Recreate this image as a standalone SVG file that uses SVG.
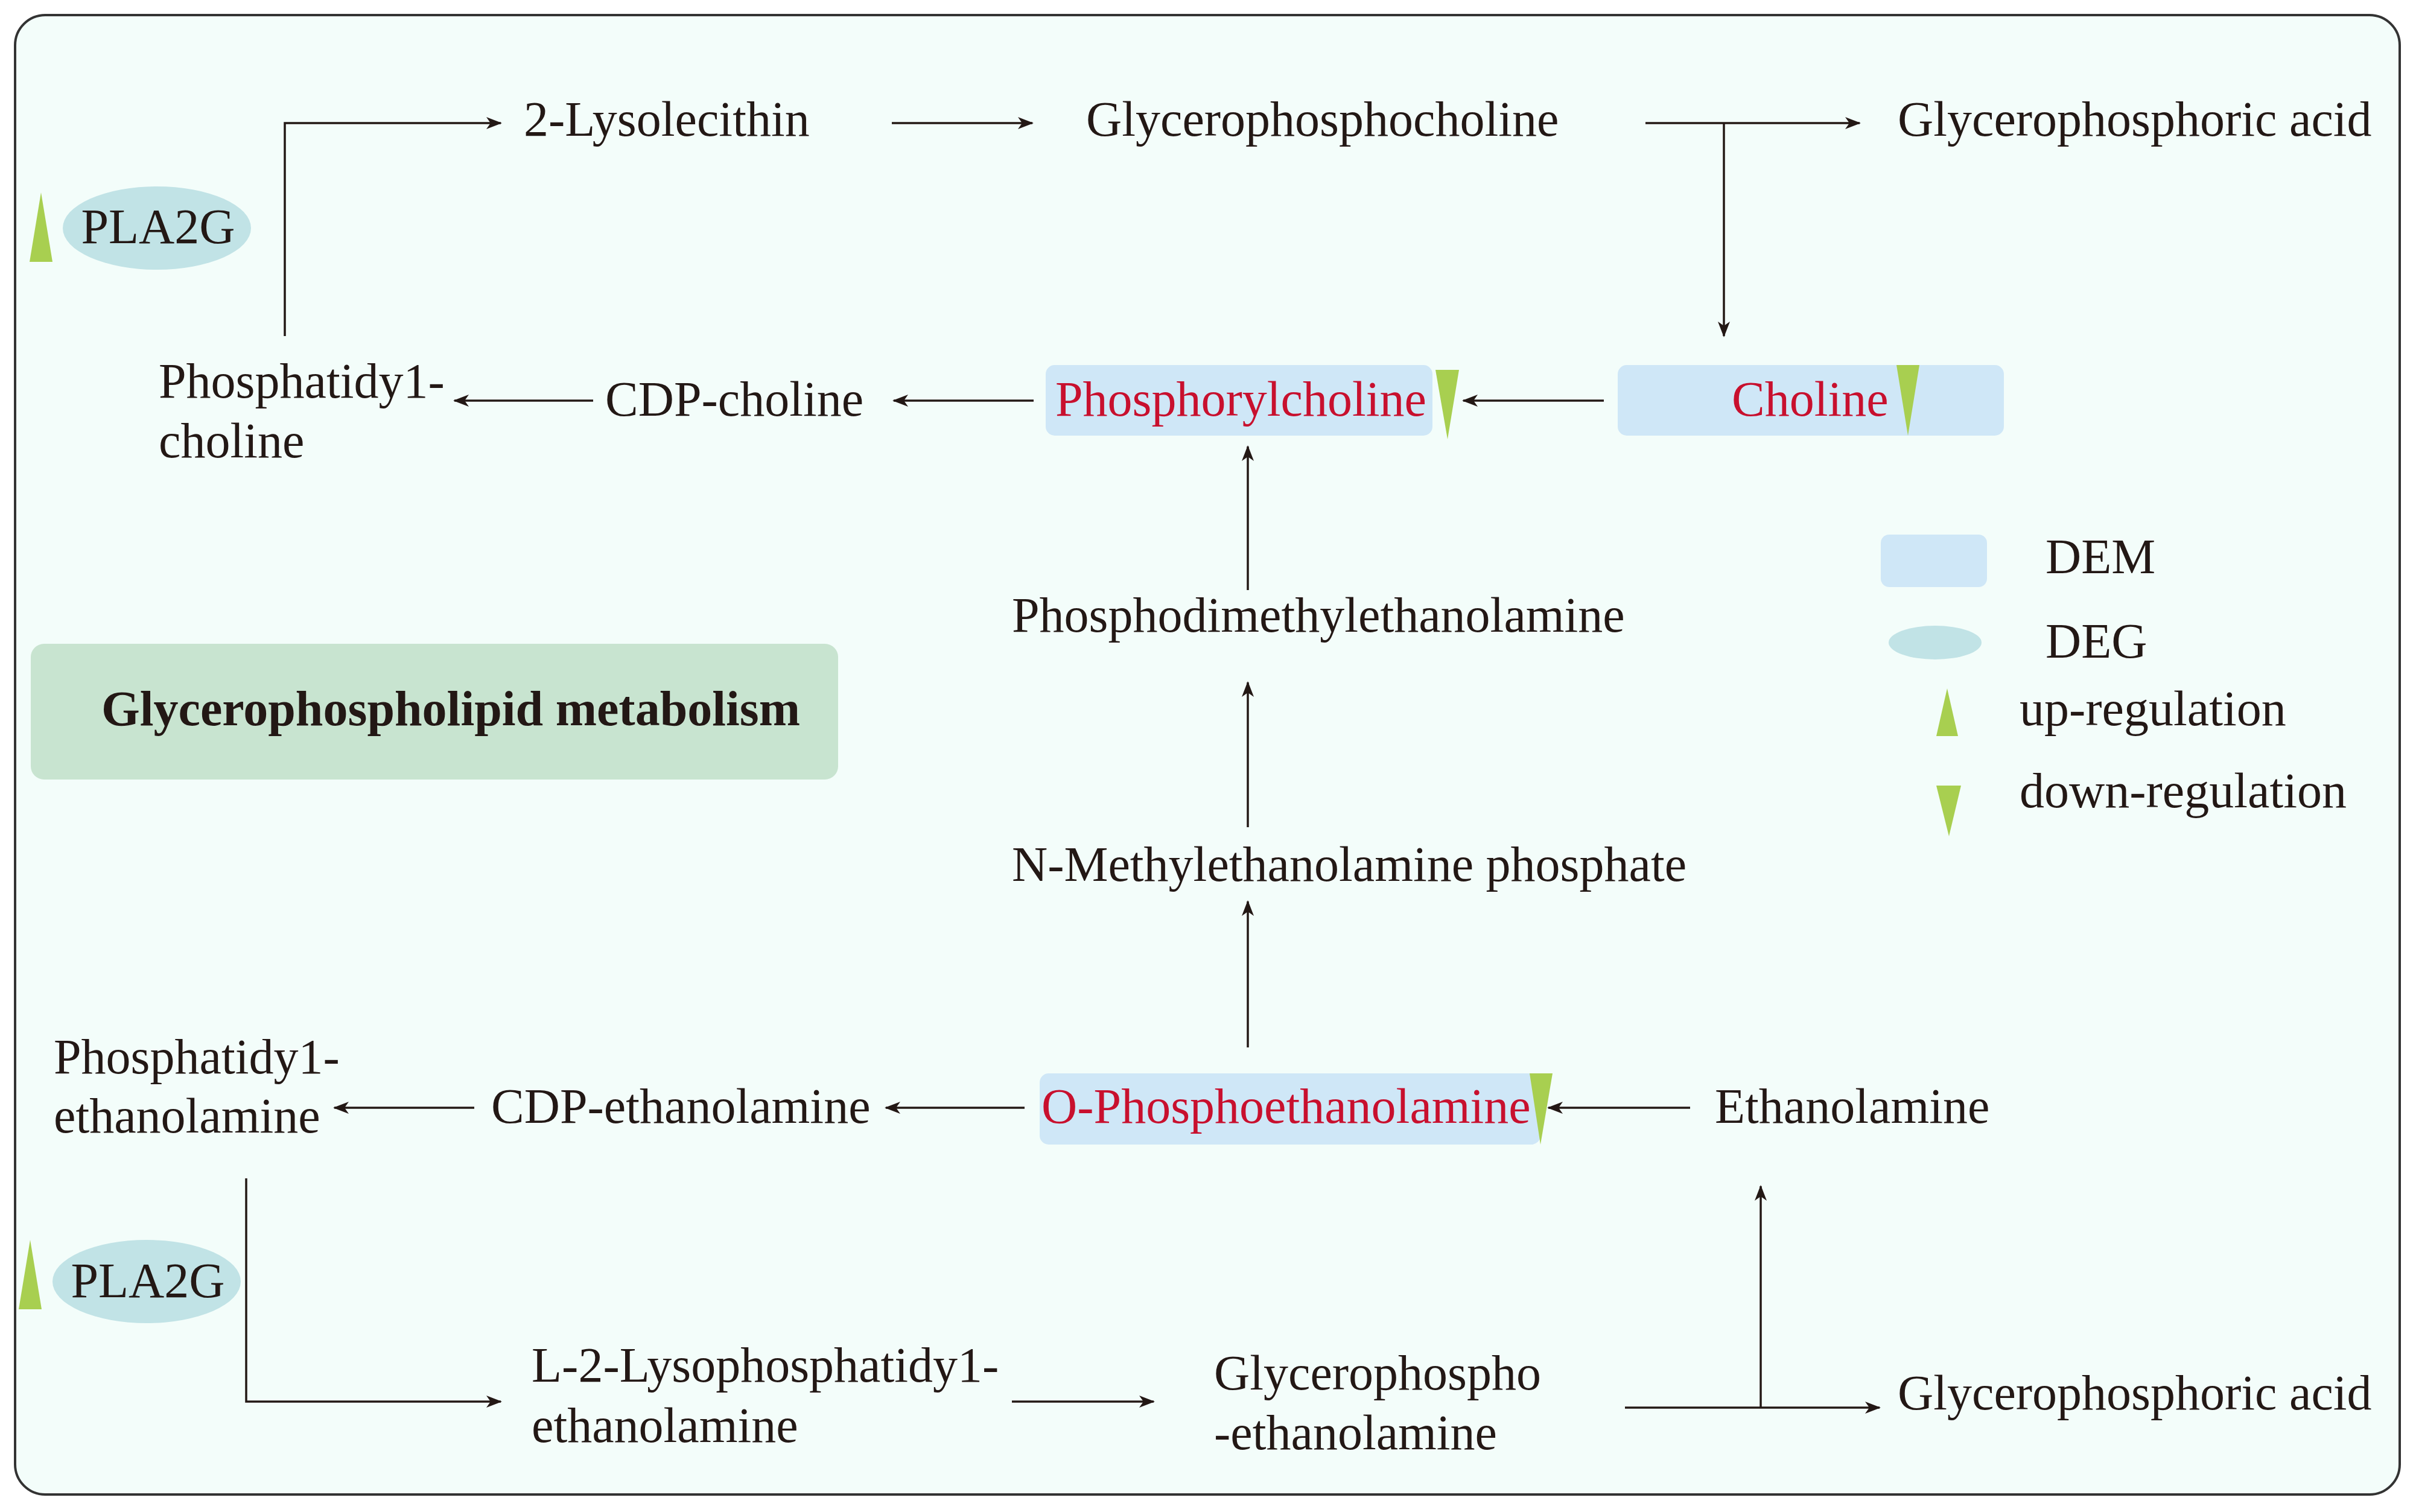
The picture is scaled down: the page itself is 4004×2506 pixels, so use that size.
<svg xmlns="http://www.w3.org/2000/svg" width="4004" height="2506" viewBox="0 0 4004 2506">
<defs>
<marker id="ah" markerUnits="userSpaceOnUse" markerWidth="26" markerHeight="20" refX="24" refY="10" orient="auto"><path d="M0,0 L26,10 L0,20 L7,10 Z" fill="#231815"/></marker>
<style>
text{font-family:"Liberation Serif","Times New Roman",serif;font-size:82px;fill:#231815}
.red{fill:#c8102e}
.c{stroke:#231815;stroke-width:3.5;fill:none}
.a{marker-end:url(#ah)}
.dem{fill:#cfe7f7}
.deg{fill:#c1e3e6}
.tri{fill:#a8cf50}
</style>
</defs>
<rect x="25" y="25" width="3952" height="2452" rx="50" fill="#f3fdfa" stroke="#333" stroke-width="4"/>
<g id="title"><rect x="51" y="1067" width="1338" height="225" rx="22" fill="#c8e4d0"/><text x="168" y="1202" font-weight="bold">Glycerophospholipid metabolism</text></g>
<g id="connectors">
<path class="c a" d="M472,557 V204 H830"/>
<path class="c a" d="M1478,204 H1711"/>
<path class="c a" d="M2727,204 H3082"/>
<path class="c a" d="M2857,204 V557"/>
<path class="c a" d="M983,664 H753"/>
<path class="c a" d="M1713,664 H1481"/>
<path class="c a" d="M2658,664 H2425"/>
<path class="c a" d="M2068,978 V740"/>
<path class="c a" d="M2068,1371 V1131"/>
<path class="c a" d="M2068,1736 V1494"/>
<path class="c a" d="M2801,1836 H2566"/>
<path class="c a" d="M1698,1836 H1468"/>
<path class="c a" d="M786,1836 H554"/>
<path class="c a" d="M408,1953 V2323 H830"/>
<path class="c a" d="M1677,2323 H1912"/>
<path class="c a" d="M2693,2333 H3115"/>
<path class="c a" d="M2918,2333 V1966"/>
</g>
<g id="lysolecithin"><text x="868" y="225">2-Lysolecithin</text></g>
<g id="glycerophosphocholine"><text x="1800" y="225">Glycerophosphocholine</text></g>
<g id="gpa1"><text x="3145" y="225">Glycerophosphoric acid</text></g>
<g id="pla2g1"><ellipse class="deg" cx="260" cy="378" rx="156" ry="69"/><text x="262" y="403" text-anchor="middle">PLA2G</text><polygon class="tri" points="49,434 87,434 68,319"/></g>
<g id="pc"><text x="263" y="659">Phosphatidy1-</text><text x="263" y="758">choline</text></g>
<g id="cdpcholine"><text x="1003" y="689">CDP-choline</text></g>
<g id="phosphorylcholine"><rect class="dem" x="1733" y="605" width="641" height="117" rx="15"/><text class="red" x="1749" y="689">Phosphorylcholine</text><polygon class="tri" points="2379,613 2418,613 2399,728"/></g>
<g id="choline"><rect class="dem" x="2681" y="605" width="640" height="117" rx="15"/><text class="red" x="2870" y="689">Choline</text><polygon class="tri" points="3143,605 3181,605 3162,722"/></g>
<g id="pdme"><text x="1677" y="1047">Phosphodimethylethanolamine</text></g>
<g id="nme"><text x="1677" y="1460">N-Methylethanolamine phosphate</text></g>
<g id="ope"><rect class="dem" x="1723" y="1779" width="830" height="118" rx="15"/><text class="red" x="1726" y="1861">O-Phosphoethanolamine</text><polygon class="tri" points="2535,1779 2573,1779 2553,1897"/></g>
<g id="ethanolamine"><text x="2842" y="1861">Ethanolamine</text></g>
<g id="cdpe"><text x="814" y="1861">CDP-ethanolamine</text></g>
<g id="pe"><text x="89" y="1779">Phosphatidy1-</text><text x="89" y="1877">ethanolamine</text></g>
<g id="pla2g2"><ellipse class="deg" cx="243" cy="2124" rx="156" ry="69"/><text x="245" y="2150" text-anchor="middle">PLA2G</text><polygon class="tri" points="31,2170 69,2170 50,2055"/></g>
<g id="lpe"><text x="881" y="2290">L-2-Lysophosphatidy1-</text><text x="881" y="2390">ethanolamine</text></g>
<g id="gpe"><text x="2012" y="2303">Glycerophospho</text><text x="2012" y="2402">-ethanolamine</text></g>
<g id="gpa2"><text x="3145" y="2336">Glycerophosphoric acid</text></g>
<g id="legend">
<rect class="dem" x="3117" y="886" width="176" height="87" rx="14"/><text x="3390" y="950">DEM</text>
<ellipse class="deg" cx="3207" cy="1065" rx="77" ry="28"/><text x="3390" y="1090">DEG</text>
<polygon class="tri" points="3209,1220 3245,1220 3227,1141"/><text x="3347" y="1202">up-regulation</text>
<polygon class="tri" points="3209,1302 3250,1302 3230,1386"/><text x="3347" y="1338">down-regulation</text>
</g>
</svg>
